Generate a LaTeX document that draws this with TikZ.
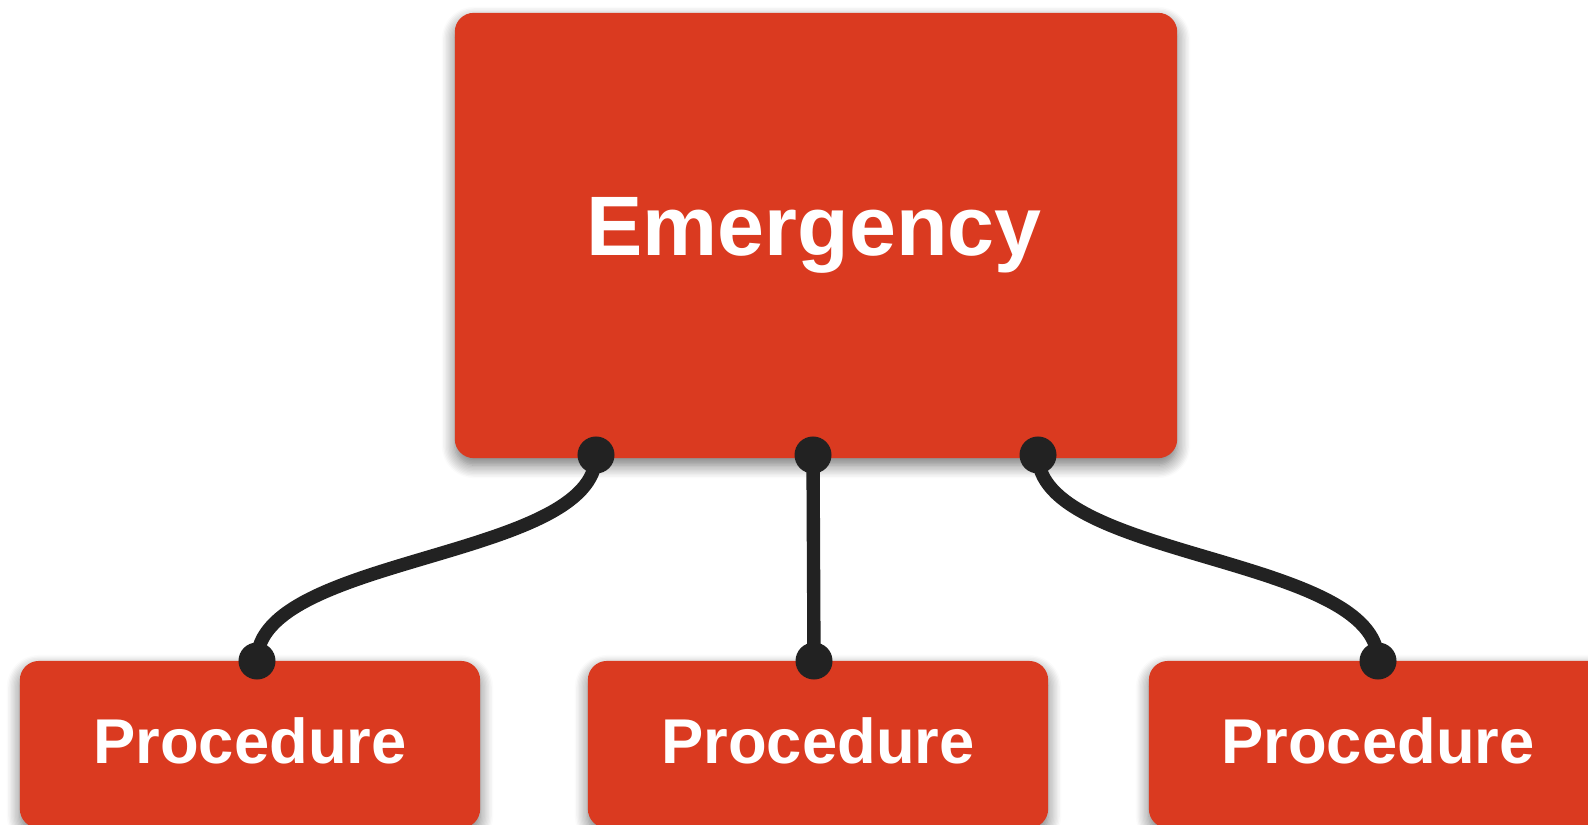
\documentclass[tikz,border=0pt]{standalone}
\usepackage{fontspec}
\setmainfont{Liberation Sans}
\usetikzlibrary{shadows.blur}
\definecolor{boxred}{HTML}{DA3A20}
\definecolor{ink}{HTML}{222222}
\pgfdeclarelayer{back}
\pgfdeclarelayer{mid}
\pgfsetlayers{back,mid,main}
\begin{document}
\begin{tikzpicture}[x=0.01cm,y=-0.01cm,
  box/.style={fill=boxred, draw=none, rounded corners=0.19cm, inner sep=0pt,
    blur shadow={shadow xshift=0pt, shadow yshift=-0.07cm, shadow blur radius=0.13cm, shadow opacity=55, shadow blur steps=10}},
  bigbox/.style={box, minimum width=7.22cm, minimum height=4.45cm},
  smallbox/.style={box, minimum width=4.6cm, minimum height=1.67cm},
  dot/.style={circle, fill=ink, inner sep=0pt, minimum size=0.37cm},
  wire/.style={draw=ink, line width=3.8pt},
  bigtxt/.style={text=white, anchor=base, font=\fontsize{24}{28}\selectfont\bfseries, inner sep=0pt},
  smalltxt/.style={text=white, anchor=base, font=\fontsize{18}{22}\selectfont\bfseries, inner sep=0pt}
]
\useasboundingbox (0,0) rectangle (1588,825);
\begin{pgfonlayer}{back}
  \node[bigbox] (top) at (816,235.5) {};
  \node[smallbox] (p1) at (250,744.5) {};
  \node[smallbox] (p2) at (818,744.5) {};
  \node[smallbox] (p3) at (1379,744.5) {};
\end{pgfonlayer}
% texts
\node[bigtxt] (em) at (814,256) {Emergency};
\node[smalltxt] (p1t) at (250,763) {Procedure};
\node[smalltxt] (p2t) at (818,763) {Procedure};
\node[smalltxt] (p3t) at (1378,763) {Procedure};
% dots
\node[dot] (t1) at (596,455) {};
\node[dot] (t2) at (813,455) {};
\node[dot] (t3) at (1038,455) {};
\node[dot] (b1) at (257,661) {};
\node[dot] (b2) at (814,661) {};
\node[dot] (b3) at (1378,661) {};
\begin{pgfonlayer}{mid}
  \draw[wire] (t1.center) .. controls +(0,105) and +(0,-106) .. (b1.center);
  \draw[wire] (t2.center) -- (b2.center);
  \draw[wire] (t3.center) .. controls +(0,105) and +(0,-106) .. (b3.center);
\end{pgfonlayer}
\end{tikzpicture}
\end{document}
